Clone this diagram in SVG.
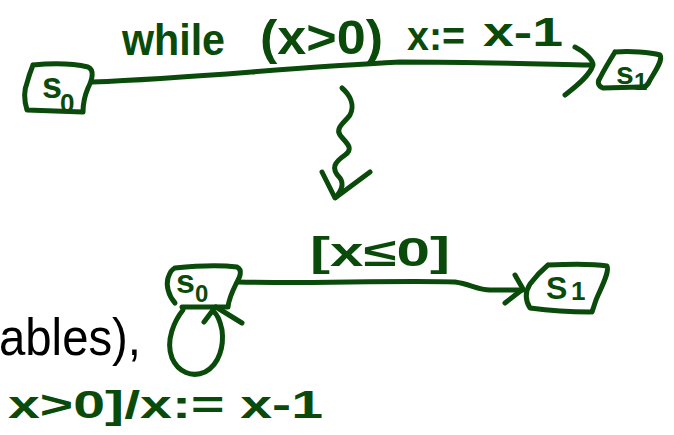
<svg xmlns="http://www.w3.org/2000/svg" width="674" height="435" viewBox="0 0 674 435">
<style>
.ink{fill:none;stroke:#0a4a0a;stroke-width:5;stroke-linecap:round;stroke-linejoin:round}
.hw{fill:#0a4a0a;font-family:"Liberation Sans",Arial,sans-serif;font-weight:bold}
.body{fill:#000;font-family:"Liberation Sans",Arial,sans-serif}
</style>
<rect width="674" height="435" fill="#fff"/>
<g id="top-s0">
<path class="ink" d="M33,65 C55,63 75,64 88,67 C95,70 92,80 88,88 C85,95 83,102 83,112 L27,110 C24,100 24,90 27,83 C29,75 31,70 33,65"/>
<text class="hw" x="42" y="98" font-size="36">s</text>
<text class="hw" x="60" y="112" font-size="26">0</text>
</g>
<g id="top-s1">
<path class="ink" d="M615,52 C630,51 650,52 660,55 C663,60 656,70 650,80 C648,85 645,88 640,87 L603,88 C598,86 597,82 600,78 C605,68 610,60 615,52"/>
<text class="hw" x="616" y="84" font-size="32">s</text>
<text class="hw" x="634" y="90" font-size="24">1</text>
</g>
<g id="bot-s0">
<path class="ink" d="M175,268 C195,266 220,265 237,267 C243,270 240,277 236,284 C232,292 229,298 228,307 M182,307 L228,307 M175,303 C168,295 166,285 168,278 C170,272 172,269 175,268"/>
<text class="hw" x="176" y="293" font-size="34">s</text>
<text class="hw" x="195" y="302" font-size="24">0</text>
</g>
<g id="bot-s1">
<path class="ink" d="M548,265 C570,264 595,264 607,266 C610,272 600,290 596,300 L592,312 M590,312 C570,312 545,310 530,308 C525,300 525,292 530,284 C536,276 542,270 548,265"/>
<text class="hw" x="546" y="299" font-size="32">S</text>
<text class="hw" x="571" y="300" font-size="26">1</text>
</g>
<g id="connectors">
<path class="ink" d="M92,82 C200,78 280,68 400,62 C480,62 540,64 590,65"/>
<path class="ink" d="M575,47 C585,52 593,60 593,65 C590,75 578,85 565,95"/>
<path class="ink" d="M342,88 C350,95 355,105 350,115 C345,122 335,128 340,135 C345,142 355,148 345,155 C335,162 330,168 340,178 C345,185 340,192 336,197"/>
<path class="ink" d="M322,172 L335,198 L370,172"/>
<path class="ink" d="M238,282 C300,284 400,280 455,282 C470,284 478,290 490,290 L523,290"/>
<path class="ink" d="M515,275 L523,289 L505,303"/>
<path class="ink" d="M183,310 C175,320 165,340 172,358 C178,372 192,378 205,372 C220,364 224,345 222,330 C220,320 217,314 213,311"/>
<path class="ink" d="M204,322 L213,310 M216,307 L242,323"/>
</g>
<g id="labels">
<text class="hw" x="122" y="55" font-size="44" textLength="103" lengthAdjust="spacingAndGlyphs">while</text>
<text class="hw" x="260" y="54" font-size="48" textLength="123" lengthAdjust="spacingAndGlyphs">(x&gt;0)</text>
<text class="hw" x="407" y="50" font-size="40" textLength="58" lengthAdjust="spacingAndGlyphs">x:=</text>
<text class="hw" x="483" y="46" font-size="40" textLength="80" lengthAdjust="spacingAndGlyphs">x-1</text>
<text class="hw" x="310" y="266" font-size="40" textLength="140" lengthAdjust="spacingAndGlyphs">[x≤0]</text>
<text class="hw" x="8" y="418" font-size="38" textLength="315" lengthAdjust="spacingAndGlyphs">x&gt;0]/x:= x-1</text>
</g>
<text class="body" x="-1" y="355" font-size="52" textLength="142" lengthAdjust="spacingAndGlyphs">ables),</text>
</svg>
